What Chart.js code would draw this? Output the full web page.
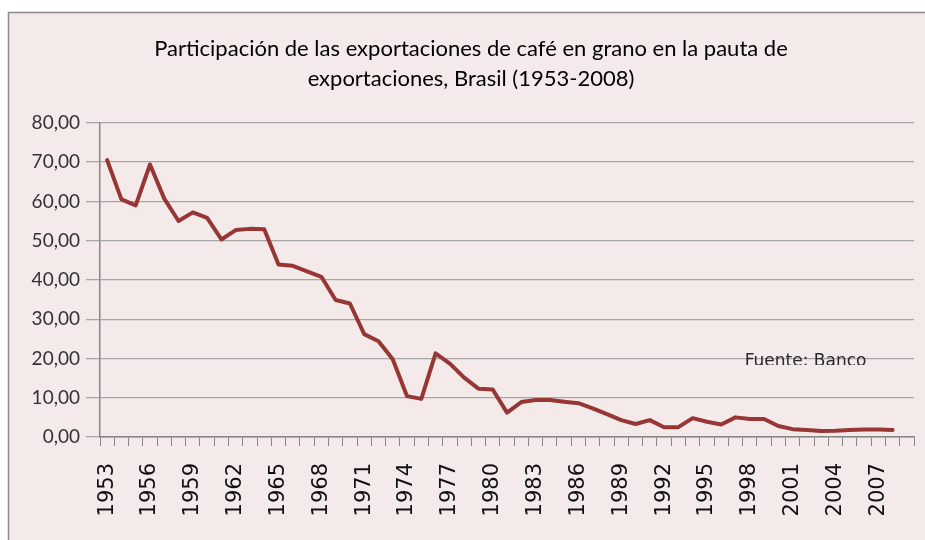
<!DOCTYPE html>
<html>
<head>
<meta charset="utf-8">
<script src="https://cdn.jsdelivr.net/npm/chart.js@4/dist/chart.umd.min.js"></script>
<style>
  html, body { margin: 0; padding: 0; background: #ffffff; }
  #wrap { width: 925px; height: 540px; position: relative; }
</style>
</head>
<body>
<div id="wrap"><canvas id="c" width="925" height="540"></canvas></div>
<script>
// ---- data ----
const years = ['1953','1954','1955','1956','1957','1958','1959','1960','1961','1962',
  '1963','1964','1965','1966','1967','1968','1969','1970','1971','1972',
  '1973','1974','1975','1976','1977','1978','1979','1980','1981','1982',
  '1983','1984','1985','1986','1987','1988','1989','1990','1991','1992',
  '1993','1994','1995','1996','1997','1998','1999','2000','2001','2002',
  '2003','2004','2005','2006','2007','2008','2009'];
const participacion = [70.5, 60.5, 59.0, 69.4, 60.7, 55.0, 57.2, 55.8, 50.3, 52.7,
  53.0, 52.9, 43.9, 43.6, 42.2, 40.8, 34.9, 34.0, 26.2, 24.4,
  19.8, 10.4, 9.7, 21.3, 18.7, 15.1, 12.3, 12.1, 6.2, 8.9,
  9.4, 9.4, 9.0, 8.6, 7.3, 5.8, 4.3, 3.3, 4.3, 2.5,
  2.5, 4.8, 3.9, 3.2, 5.0, 4.6, 4.6, 2.8, 2.0, 1.8,
  1.5, 1.6, 1.8, 1.9, 1.9, 1.8, null];
const titleLines = ['Participación de las exportaciones de café en grano en la pauta de',
  'exportaciones, Brasil (1953-2008)'];
const sourceNote = 'Fuente: Banco';
const yMin = 0, yMax = 80, yStep = 10;
const labelEvery = 3;

// ---- styles ----
const PINK = '#f5eaea';
const LINE = '#963735';
const GRID = '#a6a6a6';
const AXIS = '#868686';

const framePlugin = {
  id: 'frame',
  beforeDraw(chart) {
    const ctx = chart.ctx;
    ctx.save();
    ctx.fillStyle = '#ffffff';
    ctx.fillRect(0, 0, chart.width, chart.height);
    ctx.fillStyle = PINK;
    ctx.fillRect(8, 12, chart.width - 8, chart.height - 12);
    ctx.strokeStyle = '#8a8a8a';
    ctx.lineWidth = 1.5;
    ctx.beginPath();
    ctx.moveTo(8.5, chart.height);
    ctx.lineTo(8.5, 12.5);
    ctx.lineTo(chart.width, 12.5);
    ctx.stroke();
    ctx.restore();
  }
};

const notePlugin = {
  id: 'note',
  afterDatasetsDraw(chart) {
    const ctx = chart.ctx;
    const a = chart.chartArea;
    const x = a.left + (a.right - a.left) * 0.792;
    const clipY = a.top + (a.bottom - a.top) * 0.771;
    ctx.save();
    ctx.beginPath();
    ctx.rect(x - 5, clipY - 30, 200, 30);
    ctx.clip();
    ctx.font = '17px "DejaVu Sans"';
    ctx.fillStyle = '#2a2a2a';
    ctx.textBaseline = 'alphabetic';
    ctx.textAlign = 'left';
    ctx.fillText(sourceNote, x, clipY + 0.8);
    ctx.restore();
  }
};

new Chart(document.getElementById('c'), {
  type: 'line',
  data: {
    labels: years,
    datasets: [{
      data: participacion,
      borderColor: LINE,
      borderWidth: 4,
      pointRadius: 0,
      tension: 0,
      fill: false,
      borderJoinStyle: 'round',
      borderCapStyle: 'round'
    }]
  },
  options: {
    responsive: false,
    animation: false,
    devicePixelRatio: 1,
    layout: { padding: { left: 28, right: 11, top: 0, bottom: 0 } },
    plugins: {
      legend: { display: false },
      tooltip: { enabled: false },
      title: {
        display: true,
        text: titleLines,
        color: '#000000',
        font: { family: 'Lato', size: 22, weight: 'normal', lineHeight: 1.36 },
        padding: { top: 34, bottom: 29 }
      }
    },
    scales: {
      x: {
        type: 'category',
        offset: true,
        grid: {
          offset: true,
          drawOnChartArea: false,
          drawTicks: true,
          tickLength: 9,
          color: AXIS,
          lineWidth: 1
        },
        border: { display: true, color: AXIS, width: 1.5 },
        ticks: {
          autoSkip: false,
          maxRotation: 90,
          minRotation: 90,
          padding: 17,
          color: '#111111',
          font: { family: 'DejaVu Sans', size: 21 },
          callback: function(val, idx) { return idx % labelEvery === 0 ? this.getLabelForValue(val) : ''; }
        },
        afterFit(scale) {
          scale.height = 103;
          scale.paddingLeft = 0;
          scale.paddingRight = 0;
        }
      },
      y: {
        min: yMin,
        max: yMax,
        grid: {
          color: GRID,
          lineWidth: 1.3,
          drawTicks: true,
          tickLength: 14
        },
        border: { display: true, color: AXIS, width: 1.5 },
        ticks: {
          stepSize: yStep,
          padding: 6,
          color: '#333333',
          font: { family: 'Lato', size: 19 },
          callback: (v) => v.toFixed(2).replace('.', ',')
        },
        afterFit(scale) { scale.width = 72; }
      }
    }
  },
  plugins: [framePlugin, notePlugin]
});
</script>
</body>
</html>
